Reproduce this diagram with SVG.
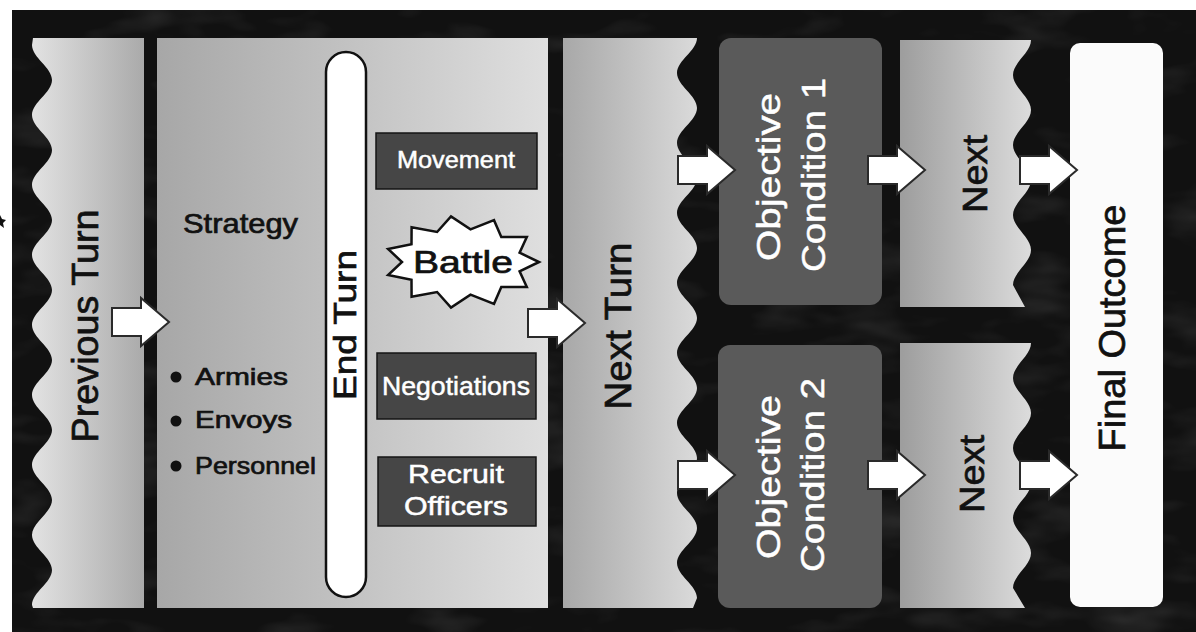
<svg xmlns="http://www.w3.org/2000/svg" width="1196" height="632" viewBox="0 0 1196 632">
<style>
.t{font-family:"Liberation Sans",Arial,sans-serif;fill:#111;stroke:#111;stroke-width:0.7}
.w{font-family:"Liberation Sans",Arial,sans-serif;fill:#fff;stroke:#fff;stroke-width:0.5}
.box{fill:#464646;stroke:#151515;stroke-width:1.5}
.oc{fill:#5a5a5a}
.arrow{fill:#fff;stroke:#2a2a2a;stroke-width:2;stroke-linejoin:miter}
</style>
<defs>
<linearGradient id="gPrev" x1="0" y1="0" x2="1" y2="0">
<stop offset="0" stop-color="#e2e2e2"/><stop offset="1" stop-color="#aaaaaa"/>
</linearGradient>
<linearGradient id="gMid" x1="0" y1="0" x2="1" y2="0">
<stop offset="0" stop-color="#a7a7a7"/><stop offset="0.45" stop-color="#c0c0c0"/><stop offset="1" stop-color="#dfdfdf"/>
</linearGradient>
<linearGradient id="gNT" x1="0" y1="0" x2="1" y2="0">
<stop offset="0" stop-color="#a8a8a8"/><stop offset="1" stop-color="#dadada"/>
</linearGradient>
<linearGradient id="gNx" x1="0" y1="0" x2="1" y2="0">
<stop offset="0" stop-color="#9d9d9d"/><stop offset="1" stop-color="#dcdcdc"/>
</linearGradient>
<filter id="tex" x="0" y="0" width="100%" height="100%">
<feTurbulence type="fractalNoise" baseFrequency="0.012 0.03" numOctaves="3" seed="4" result="n"/>
<feColorMatrix in="n" type="matrix" values="0 0 0 0 0.3  0 0 0 0 0.3  0 0 0 0 0.3  0 0 0 1.2 -0.6"/>
</filter>
<path id="arr" d="M0,-14 H29 V-24 L57,0 L29,24 V14 H0 Z"/>
</defs>

<rect x="0" y="0" width="1196" height="632" fill="#ffffff"/>
<rect x="12" y="10" width="1184" height="622" fill="#111111"/>
<rect x="12" y="10" width="1184" height="622" filter="url(#tex)" opacity="0.35"/>
<path d="M0,215 L2,219 L6,220 L3,223 L4,228 L0,225 Z" fill="#111"/>

<g id="previous-turn">
<path fill="url(#gPrev)" d="M144,38 L33,38 L32,45 c0,12.6 20,22.4 20,35 c0,12.6 -20,22.4 -20,35 c0,12.6 20,22.4 20,35 c0,12.6 -20,22.4 -20,35 c0,12.6 20,22.4 20,35 c0,12.6 -20,22.4 -20,35 c0,12.6 20,22.4 20,35 c0,12.6 -20,22.4 -20,35 c0,12.6 20,22.4 20,35 c0,12.6 -20,22.4 -20,35 c0,12.6 20,22.4 20,35 c0,12.6 -20,22.4 -20,35 c0,12.6 20,22.4 20,35 c0,12.6 -20,22.4 -20,35 c0,12.6 20,22.4 20,35 c0,12.6 -20,22.4 -20,35 L33,608 L144,608 Z"/>
<text class="t" transform="translate(98,326) rotate(-90)" text-anchor="middle" font-size="37" textLength="233" lengthAdjust="spacingAndGlyphs">Previous Turn</text>
</g>

<g id="turn-phase">
<rect x="157" y="38" width="391" height="570" fill="url(#gMid)"/>
<text class="t" x="240.5" y="233" text-anchor="middle" font-size="28" textLength="115" lengthAdjust="spacingAndGlyphs">Strategy</text>
<circle cx="176" cy="377" r="5.5" fill="#111"/>
<circle cx="176" cy="421" r="5.5" fill="#111"/>
<circle cx="176" cy="466" r="5.5" fill="#111"/>
<text class="t" x="195" y="385" font-size="24" textLength="93" lengthAdjust="spacingAndGlyphs">Armies</text>
<text class="t" x="195" y="428" font-size="24" textLength="97" lengthAdjust="spacingAndGlyphs">Envoys</text>
<text class="t" x="195" y="474" font-size="24" textLength="121" lengthAdjust="spacingAndGlyphs">Personnel</text>
</g>

<g id="end-turn">
<rect x="326" y="52" width="40" height="545" rx="20" ry="20" fill="#fff" stroke="#111" stroke-width="2.5"/>
<text class="t" transform="translate(356,325) rotate(-90)" text-anchor="middle" font-size="31" textLength="150" lengthAdjust="spacingAndGlyphs">End Turn</text>
</g>

<g id="movement">
<rect class="box" x="376" y="133" width="161" height="56"/>
<text class="w" x="456" y="168" text-anchor="middle" font-size="24" textLength="118" lengthAdjust="spacingAndGlyphs">Movement</text>
</g>

<g id="battle">
<polygon points="539,262 519.6,271.3 526.8,286.9 501.3,286.9 494,303.8 470.5,294.7 451,307.5 437.1,292 411.6,296.8 411.5,279.8 388.1,275 402,262 388.1,249 411.5,244.2 411.6,227.2 437.1,232 451,216.5 470.5,229.3 494,220.2 501.3,237.1 526.8,237.1 519.6,252.7" fill="#fff" stroke="#111" stroke-width="2.5" stroke-linejoin="miter"/>
<text class="t" x="463" y="273" text-anchor="middle" font-size="31" textLength="100" lengthAdjust="spacingAndGlyphs">Battle</text>
</g>

<g id="negotiations">
<rect class="box" x="377" y="353" width="159" height="66"/>
<text class="w" x="456" y="395" text-anchor="middle" font-size="26" textLength="148" lengthAdjust="spacingAndGlyphs">Negotiations</text>
</g>

<g id="recruit-officers">
<rect class="box" x="378" y="457" width="158" height="69"/>
<text class="w" x="456" y="483" text-anchor="middle" font-size="26" textLength="96" lengthAdjust="spacingAndGlyphs">Recruit</text>
<text class="w" x="456" y="515" text-anchor="middle" font-size="26" textLength="104" lengthAdjust="spacingAndGlyphs">Officers</text>
</g>

<g id="next-turn">
<path fill="url(#gNT)" d="M563,38 L697,38 c0,12.6 -20,22.4 -20,35 c0,12.6 20,22.4 20,35 c0,12.6 -20,22.4 -20,35 c0,12.6 20,22.4 20,35 c0,12.6 -20,22.4 -20,35 c0,12.6 20,22.4 20,35 c0,12.6 -20,22.4 -20,35 c0,12.6 20,22.4 20,35 c0,12.6 -20,22.4 -20,35 c0,12.6 20,22.4 20,35 c0,12.6 -20,22.4 -20,35 c0,12.6 20,22.4 20,35 c0,12.6 -20,22.4 -20,35 c0,12.6 20,22.4 20,35 c0,12.6 -20,22.4 -20,35 c0,12.6 20,22.4 20,35 L693,608 L563,608 Z"/>
<text class="t" transform="translate(631,326) rotate(-90)" text-anchor="middle" font-size="37" textLength="167" lengthAdjust="spacingAndGlyphs">Next Turn</text>
</g>

<g id="objective-1">
<rect class="oc" x="719" y="38" width="163" height="267" rx="12" ry="12"/>
<text class="w" transform="translate(780,177) rotate(-90)" text-anchor="middle" font-size="33" textLength="168" lengthAdjust="spacingAndGlyphs">Objective</text>
<text class="w" transform="translate(825,175) rotate(-90)" text-anchor="middle" font-size="33" textLength="194" lengthAdjust="spacingAndGlyphs">Condition 1</text>
</g>

<g id="objective-2">
<rect class="oc" x="718" y="345" width="164" height="263" rx="12" ry="12"/>
<text class="w" transform="translate(780,477) rotate(-90)" text-anchor="middle" font-size="33" textLength="164" lengthAdjust="spacingAndGlyphs">Objective</text>
<text class="w" transform="translate(824,475) rotate(-90)" text-anchor="middle" font-size="33" textLength="194" lengthAdjust="spacingAndGlyphs">Condition 2</text>
</g>

<g id="next-1">
<path fill="url(#gNx)" d="M900,40 L1031,40 c0,12.6 -18,22.4 -18,35 c0,12.6 18,22.4 18,35 c0,12.6 -18,22.4 -18,35 c0,12.6 18,22.4 18,35 c0,12.6 -18,22.4 -18,35 c0,12.6 18,22.4 18,35 c0,12.6 -18,22.4 -18,35 L1025,307 L900,307 Z"/>
<text class="t" transform="translate(987,174) rotate(-90)" text-anchor="middle" font-size="35" textLength="78" lengthAdjust="spacingAndGlyphs">Next</text>
</g>

<g id="next-2">
<path fill="url(#gNx)" d="M900,343 L1031,343 c0,12.6 -18,22.4 -18,35 c0,12.6 18,22.4 18,35 c0,12.6 -18,22.4 -18,35 c0,12.6 18,22.4 18,35 c0,12.6 -18,22.4 -18,35 c0,12.6 18,22.4 18,35 c0,12.6 -18,22.4 -18,35 L1025,608 L900,608 Z"/>
<text class="t" transform="translate(984,474) rotate(-90)" text-anchor="middle" font-size="35" textLength="78" lengthAdjust="spacingAndGlyphs">Next</text>
</g>

<g id="final-outcome">
<rect x="1070" y="43" width="93" height="564" rx="10" ry="10" fill="#fbfbfb"/>
<text class="t" transform="translate(1125,328) rotate(-90)" text-anchor="middle" font-size="37" textLength="247" lengthAdjust="spacingAndGlyphs">Final Outcome</text>
</g>

<g id="connectors">
<use href="#arr" class="arrow" transform="translate(112,322)"/>
<use href="#arr" class="arrow" transform="translate(528,323)"/>
<use href="#arr" class="arrow" transform="translate(678,170)"/>
<use href="#arr" class="arrow" transform="translate(678,475)"/>
<use href="#arr" class="arrow" transform="translate(868,170)"/>
<use href="#arr" class="arrow" transform="translate(868,475)"/>
<use href="#arr" class="arrow" transform="translate(1020,170)"/>
<use href="#arr" class="arrow" transform="translate(1020,475)"/>
</g>
</svg>
